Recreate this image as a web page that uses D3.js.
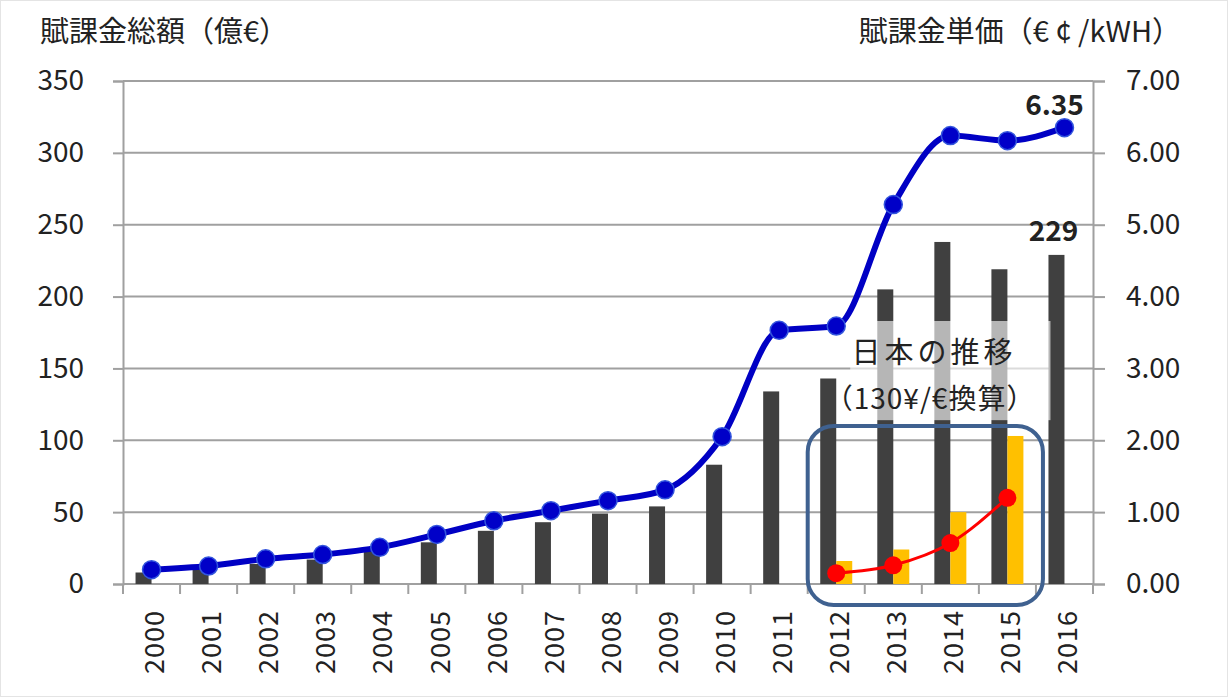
<!DOCTYPE html>
<html><head><meta charset="utf-8">
<script src="https://cdn.jsdelivr.net/npm/d3@7"></script>
<style>
html,body{margin:0;padding:0;background:#fff;}
text{font-family:"Noto Sans CJK JP","Noto Sans",sans-serif;fill:#222;}
</style></head>
<body>
<svg id="c" width="1228" height="697"></svg>
<script>
const years = ["2000","2001","2002","2003","2004","2005","2006","2007","2008","2009","2010","2011","2012","2013","2014","2015","2016"];
const totalLevy = [8,11,14,17,23,29,37,43,49,54,83,134,143,205,238,219,229];
const unitLevy = [0.20,0.25,0.35,0.41,0.51,0.69,0.88,1.02,1.16,1.31,2.05,3.53,3.59,5.28,6.24,6.17,6.35];
const jpYears = ["2012","2013","2014","2015"];
const jpTotal = [16,24,50,103];
const jpUnit = [0.15,0.26,0.57,1.20];
const leftTicks = [0,50,100,150,200,250,300,350];
const leftTickLabels = ["0","50","100","150","200","250","300","350"];
const rightTicks = [0,1,2,3,4,5,6,7];
const rightTickLabels = ["0.00","1.00","2.00","3.00","4.00","5.00","6.00","7.00"];
const leftTitle = "賦課金総額（億€）";
const rightTitle = "賦課金単価（€ ¢ /kWH）";
const noteLine1 = "日本の推移";
const noteLine2 = "（130¥/€換算）";

const L = 123, R = 1093, T = 81, B = 584;
const svg = d3.select("#c");
svg.append("rect").attr("x",0.5).attr("y",0.5).attr("width",1227).attr("height",696)
  .attr("fill","#fff").attr("stroke","#e4e4e4");

const x = d3.scaleBand().domain(years).range([L,R]).padding(0);
const cx = d => x(d) + x.bandwidth()/2;
const yL = d3.scaleLinear().domain([0,350]).range([B,T]);
const yR = d3.scaleLinear().domain([0,7]).range([B,T]);

// gridlines
svg.append("g").selectAll("line").data(leftTicks).join("line")
  .attr("x1",L).attr("x2",R).attr("y1",d=>yL(d)).attr("y2",d=>yL(d))
  .attr("stroke","#a0a0a0").attr("stroke-width",2);

// left axis
const ax = svg.append("g").attr("transform",`translate(${L},0)`)
  .call(d3.axisLeft(yL).tickValues(leftTicks).tickFormat((d,i)=>leftTickLabels[i]).tickSize(10).tickPadding(29));
ax.select(".domain").attr("stroke","#a0a0a0").attr("stroke-width",2);
ax.selectAll(".tick line").attr("stroke","#a0a0a0").attr("stroke-width",2);
ax.selectAll("text").style("font-size","28px").attr("fill","#222");

// right axis
const ar = svg.append("g").attr("transform",`translate(${R},0)`)
  .call(d3.axisRight(yR).tickValues(rightTicks).tickFormat((d,i)=>rightTickLabels[i]).tickSize(12).tickPadding(21));
ar.select(".domain").attr("stroke","#a0a0a0").attr("stroke-width",2);
ar.selectAll(".tick line").attr("stroke","#a0a0a0").attr("stroke-width",2);
ar.selectAll("text").style("font-size","28px").attr("fill","#222");

// x axis
svg.append("line").attr("x1",L).attr("x2",R).attr("y1",B).attr("y2",B).attr("stroke","#a0a0a0").attr("stroke-width",2);
svg.append("g").selectAll("line").data(years.concat(["end"])).join("line")
  .attr("x1",d=> d==="end" ? R : x(d)).attr("x2",d=> d==="end" ? R : x(d))
  .attr("y1",B).attr("y2",B+10).attr("stroke","#a0a0a0").attr("stroke-width",2);
svg.append("g").selectAll("text").data(years).join("text")
  .attr("transform",d=>`translate(${cx(d)+3},${B+26}) rotate(-90)`)
  .attr("text-anchor","end").attr("dy","0.36em")
  .style("font-size","27px").style("letter-spacing","1px").text(d=>d);

// Germany bars
svg.append("g").selectAll("rect").data(years).join("rect")
  .attr("x",d=>cx(d)-16).attr("width",16)
  .attr("y",(d,i)=>yL(totalLevy[i])).attr("height",(d,i)=>B-yL(totalLevy[i]))
  .attr("fill","#404040");
// Japan bars
svg.append("g").selectAll("rect").data(jpYears).join("rect")
  .attr("x",d=>cx(d)).attr("width",16)
  .attr("y",(d,i)=>yL(jpTotal[i])).attr("height",(d,i)=>B-yL(jpTotal[i]))
  .attr("fill","#ffc000");

// blue line
const line = d3.line().curve(d3.curveMonotoneX);
svg.append("path").attr("d",line(years.map((d,i)=>[cx(d),yR(unitLevy[i])])))
  .attr("fill","none").attr("stroke","#0000c4").attr("stroke-width",6);
svg.append("g").selectAll("circle").data(years).join("circle")
  .attr("cx",d=>cx(d)).attr("cy",(d,i)=>yR(unitLevy[i])).attr("r",9)
  .attr("fill","#0000c8").attr("stroke","#3355dd").attr("stroke-width",1.5);

// red line
svg.append("path").attr("d",line(jpYears.map((d,i)=>[cx(d),yR(jpUnit[i])])))
  .attr("fill","none").attr("stroke","#ff0000").attr("stroke-width",3);
svg.append("g").selectAll("circle").data(jpYears).join("circle")
  .attr("cx",d=>cx(d)).attr("cy",(d,i)=>yR(jpUnit[i])).attr("r",9)
  .attr("fill","#ff0000");

// rounded annotation box
const bx0 = x("2012"), bx1 = x("2016")+7;
svg.append("rect").attr("x",bx0).attr("y",yR(2.2)).attr("width",bx1-bx0).attr("height",B+21-yR(2.2))
  .attr("rx",26).attr("fill","none").attr("stroke","#3f6190").attr("stroke-width",4);

// note box
const nx0 = cx("2012")+14, nx1 = cx("2016")-14;
svg.append("rect").attr("x",nx0).attr("y",yL(183)).attr("width",nx1-nx0).attr("height",yL(114)-yL(183))
  .attr("fill","#fff").attr("opacity",0.62);
const ncx = (x("2014")+cx("2014"))/2 - 2;
svg.append("text").attr("x",ncx).attr("y",yL(154)).attr("text-anchor","middle")
  .style("font-size","29px").style("letter-spacing","4px").text(noteLine1);
svg.append("text").attr("x",ncx-4).attr("y",yL(122)).attr("text-anchor","middle")
  .style("font-size","28px").style("letter-spacing","1px").text(noteLine2);

// value labels
const last = years.length-1;
svg.append("text").attr("x",cx(years[last])-10).attr("y",yR(unitLevy[last])-13).attr("text-anchor","middle")
  .style("font-size","28px").style("font-weight","bold").text(unitLevy[last].toFixed(2));
svg.append("text").attr("x",cx(years[last])-11).attr("y",yL(totalLevy[last])-14).attr("text-anchor","middle")
  .style("font-size","28px").style("font-weight","bold").text(totalLevy[last]);

// titles
svg.append("text").attr("x",40).attr("y",42).style("font-size","29px").attr("fill","#333").text(leftTitle);
svg.append("text").attr("x",1181).attr("y",42).attr("text-anchor","end").style("font-size","29px").attr("fill","#333").text(rightTitle);
</script>
</body></html>
